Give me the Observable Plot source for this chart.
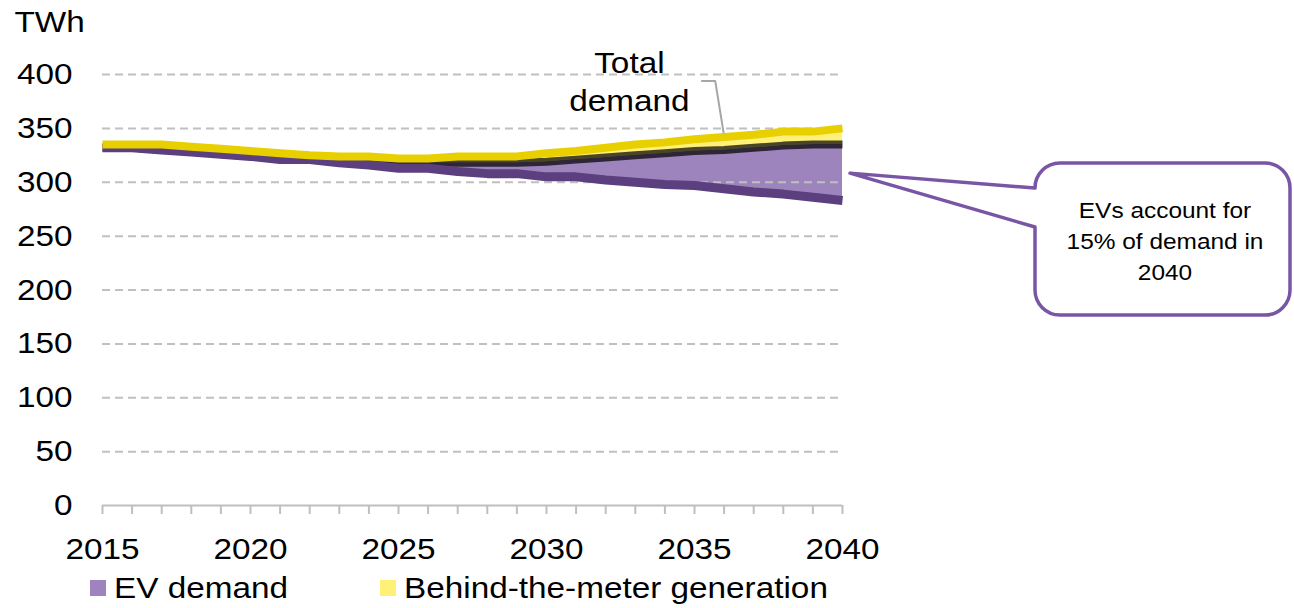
<!DOCTYPE html>
<html><head><meta charset="utf-8">
<script src="https://cdn.jsdelivr.net/npm/d3@7"></script>
<script src="https://cdn.jsdelivr.net/npm/@observablehq/plot@0.6"></script>
<style>
body{margin:0;background:#fff;font-family:"Liberation Sans",Arial,sans-serif;}
#wrap{position:relative;width:1294px;height:608px;overflow:hidden;}
#wrap svg{display:block;}
.leg{position:absolute;top:570px;height:36px;display:flex;align-items:center;font-size:30px;color:#000;white-space:nowrap;}
.sw{display:inline-block;width:16px;height:16px;margin-right:8px;}
.lt{display:inline-block;transform:scaleX(1.11);transform-origin:left center;}
</style></head><body><div id="wrap"></div>
<script>
// ---- data (TWh) ----
const years = [2015,2016,2017,2018,2019,2020,2021,2022,2023,2024,2025,2026,2027,2028,2029,2030,2031,2032,2033,2034,2035,2036,2037,2038,2039,2040];
const baseDemand = [332,332,330,328,326,324,321,321,318,316,313,313,310,308,308,305,305,302,300,298,297,294,291,289,286,283];
const evDemand = [0,0,0.5,1,1,1.5,2,2,3,4,5,5,8,10,10,14,16,21,25,29,32,36,41,45,49,52];
const btmGeneration = [3,3,4.5,4,4,3.5,4,2,3,4,4,4,6,6,6,8,8,9,10,10,11,12,12,13,12,15];
const yTicks = [0,50,100,150,200,250,300,350,400];
const xLabelYears = [2015,2020,2025,2030,2035,2040];
const legendItems = ["EV demand","Behind-the-meter generation"];
const calloutLines = ["EVs account for","15% of demand in","2040"];

const rows = years.map((year,i)=>{
  const base = baseDemand[i], grid = base + evDemand[i], total = grid + btmGeneration[i];
  return {year, base, grid, total};
});

const W = 1294, H = 572, FONT = "Liberation Sans, Arial, sans-serif", STRETCH = 1.11;
const chart = Plot.plot({
  width: W, height: H,
  marginLeft: 102, marginRight: 452, marginTop: 74, marginBottom: H - 505,
  x: {domain: [2015, 2040]},
  y: {domain: [0, 400]},
  style: {fontFamily: FONT, fontSize: "30px", color: "#000", background: "#fff", overflow: "visible"},
  marks: [
    Plot.areaY(rows, {x: "year", y1: "base", y2: "grid", fill: "#8d6eb0", fillOpacity: 0.85}),
    Plot.areaY(rows, {x: "year", y1: "grid", y2: "total", fill: "#fff07a"}),
    Plot.gridY(yTicks.filter(d => d > 0), {stroke: "#c0c0c0", strokeOpacity: 1, strokeWidth: 2, strokeDasharray: "8,5"}),
    Plot.axisY(yTicks, {tickSize: 0, tickPadding: 30, fontSize: 30}),
    Plot.ruleY([0], {stroke: "#bfbfbf", strokeWidth: 2}),
    Plot.axisX(years, {tickSize: 9, tickFormat: () => "", stroke: "#bfbfbf", strokeWidth: 2}),
    Plot.axisX(xLabelYears, {tickSize: 0, tickPadding: 32, tickFormat: d => String(d), fontSize: 30}),
    Plot.text(["TWh"], {frameAnchor: "top-left", dx: -88, dy: -52, textAnchor: "start", lineAnchor: "middle", fontSize: 30}),
    Plot.line([{x: 2035.25, y: 394}, {x: 2035.7, y: 394}, {x: 2036, y: 343}], {x: "x", y: "y", stroke: "#a6a6a6", strokeWidth: 2}),
    Plot.line(rows, {x: "year", y: "grid", stroke: "#000", strokeOpacity: 0.71, strokeWidth: 8, strokeLinecap: "butt"}),
    Plot.line(rows, {x: "year", y: "base", stroke: "#5b3f7e", strokeWidth: 9, strokeLinecap: "butt"}),
    Plot.line(rows, {x: "year", y: "total", stroke: "#e8cf00", strokeWidth: 8, strokeLinecap: "butt"}),
    Plot.text(["Total\ndemand"], {x: 2032.8, y: 395, textAnchor: "middle", lineAnchor: "middle", lineHeight: 1.27, fontSize: 30})
  ]
});

const wrap = document.getElementById("wrap");
wrap.appendChild(chart);

// ---- callout (speech bubble) ----
const sx = chart.scale("x"), sy = chart.scale("y");
const tipX = sx.apply(2040) + 8, tipY = sy.apply(308);
const L = 1035, T = 163, R = 1290, B = 315, r = 25;
const a1 = 188, a2 = 227;
const path = `M${L + r},${T} H${R - r} A${r},${r} 0 0 1 ${R},${T + r} V${B - r} A${r},${r} 0 0 1 ${R - r},${B} H${L + r} A${r},${r} 0 0 1 ${L},${B - r} V${a2} L${tipX},${tipY} L${L},${a1} V${T + r} A${r},${r} 0 0 1 ${L + r},${T} Z`;
const svg = d3.select(chart);
svg.append("path").attr("d", path).attr("fill", "#fff").attr("stroke", "#7955a6").attr("stroke-width", 3.5).attr("stroke-linejoin", "round");
const ct = svg.append("text").attr("font-family", FONT).attr("font-size", 22).attr("text-anchor", "middle").attr("fill", "#000");
calloutLines.forEach((s, i) => ct.append("tspan").attr("x", 1165).attr("y", 218 + i * 31).text(s));

// ---- horizontally stretch all chart text (source uses a wide rendering) ----
chart.querySelectorAll("text").forEach(t => {
  const bb = t.getBBox();
  const anchor = getComputedStyle(t).textAnchor;
  const ax = anchor === "end" ? bb.x + bb.width : anchor === "middle" ? bb.x + bb.width / 2 : bb.x;
  const prev = t.getAttribute("transform") || "";
  t.setAttribute("transform", `${prev} translate(${ax},0) scale(${STRETCH},1) translate(${-ax},0)`.trim());
});

// ---- legend ----
const legColors = ["#9e84bc", "#fff176"];
const legLeft = [90, 380];
legendItems.forEach((name, i) => {
  const d = document.createElement("div");
  d.className = "leg";
  d.style.left = legLeft[i] + "px";
  d.innerHTML = `<span class="sw" style="background:${legColors[i]}"></span><span class="lt">${name}</span>`;
  wrap.appendChild(d);
});
</script>
</body></html>
